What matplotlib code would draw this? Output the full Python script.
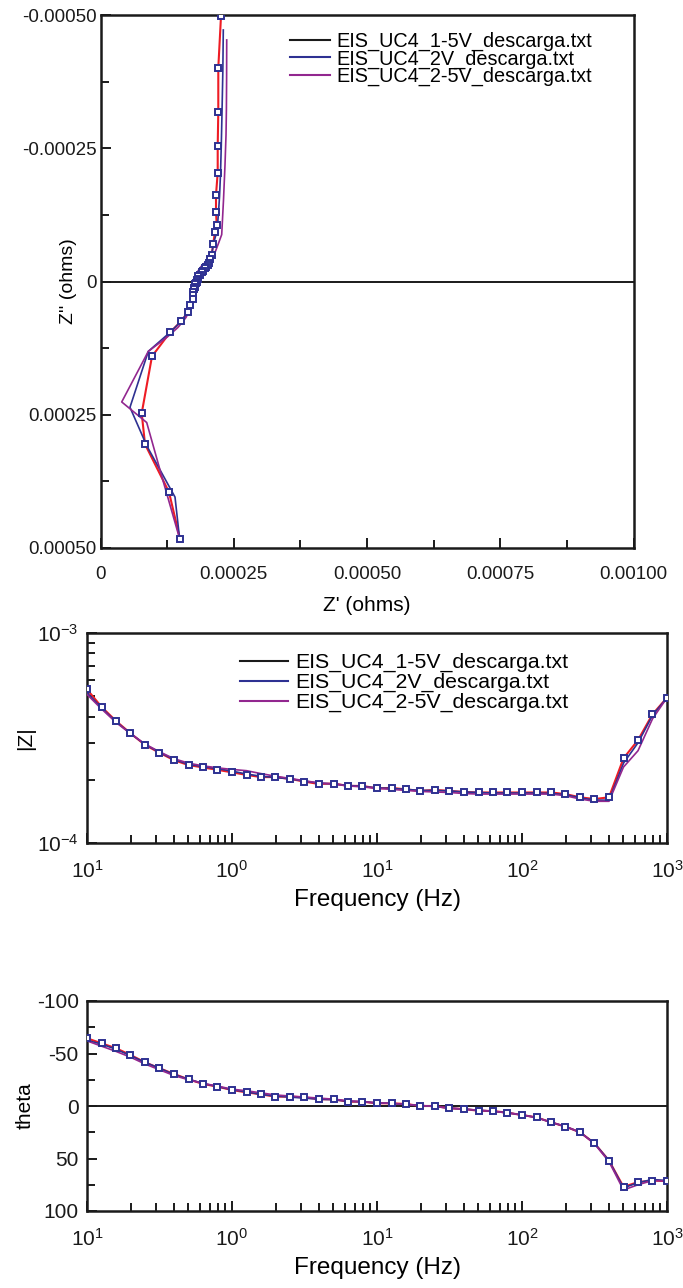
import matplotlib
matplotlib.use('Agg')
import matplotlib.pyplot as plt
from matplotlib.lines import Line2D
from matplotlib.ticker import FixedLocator, FixedFormatter, NullFormatter

plt.rcParams['font.family'] = ['Liberation Sans', 'DejaVu Sans']
plt.rcParams['mathtext.fontset'] = 'custom'
plt.rcParams['mathtext.rm'] = 'Liberation Sans'
plt.rcParams['mathtext.it'] = 'Liberation Sans'
plt.rcParams['mathtext.default'] = 'regular'

# ---------------- data ----------------
series_names = ['EIS_UC4_1-5V_descarga.txt', 'EIS_UC4_2V_descarga.txt', 'EIS_UC4_2-5V_descarga.txt']

freq_hz = [0.1, 0.1259, 0.1585, 0.1995, 0.2512, 0.3162, 0.3981, 0.5012, 0.631, 0.7943,
           1.0, 1.259, 1.585, 1.995, 2.512, 3.162, 3.981, 5.012, 6.31, 7.943,
           10.0, 12.59, 15.85, 19.95, 25.12, 31.62, 39.81, 50.12, 63.1, 79.43,
           100.0, 125.9, 158.5, 199.5, 251.2, 316.2, 398.1, 501.2, 631.0, 794.3,
           1000.0]

# Nyquist, series 1-5V (red line with square markers)
zre_15 = [2.261e-4, 2.210e-4, 2.210e-4, 2.199e-4, 2.199e-4, 2.167e-4, 2.167e-4, 2.180e-4, 2.148e-4, 2.116e-4,
          2.086e-4, 2.054e-4, 2.041e-4, 2.017e-4, 1.979e-4, 1.961e-4, 1.923e-4, 1.899e-4, 1.867e-4, 1.835e-4,
          1.820e-4, 1.811e-4, 1.805e-4, 1.792e-4, 1.782e-4, 1.773e-4, 1.764e-4, 1.754e-4, 1.745e-4, 1.735e-4,
          1.730e-4, 1.730e-4, 1.679e-4, 1.636e-4, 1.510e-4, 1.304e-4, 0.966e-4, 0.773e-4, 0.835e-4, 1.285e-4,
          1.492e-4]
zim_15 = [-4.981e-4, -4.007e-4, -3.184e-4, -2.547e-4, -2.041e-4, -1.629e-4, -1.311e-4, -1.067e-4, -0.936e-4, -0.712e-4,
          -0.506e-4, -0.431e-4, -0.356e-4, -0.318e-4, -0.281e-4, -0.262e-4, -0.206e-4, -0.169e-4, -0.131e-4, -0.094e-4,
          -0.056e-4, -0.037e-4, 0.0, 0.019e-4, 0.056e-4, 0.094e-4, 0.112e-4, 0.131e-4, 0.150e-4, 0.206e-4,
          0.262e-4, 0.337e-4, 0.449e-4, 0.581e-4, 0.749e-4, 0.955e-4, 1.404e-4, 2.472e-4, 3.052e-4, 3.951e-4,
          4.831e-4]

# Nyquist, series 2V (blue)
zre_2 = [2.304e-4, 2.295e-4, 2.280e-4, 2.266e-4, 2.251e-4, 2.233e-4, 2.214e-4, 2.195e-4, 2.167e-4, 2.120e-4,
         2.086e-4, 2.054e-4, 2.041e-4, 2.017e-4, 1.979e-4, 1.961e-4, 1.923e-4, 1.899e-4, 1.867e-4, 1.835e-4,
         1.820e-4, 1.811e-4, 1.805e-4, 1.792e-4, 1.782e-4, 1.773e-4, 1.764e-4, 1.754e-4, 1.745e-4, 1.735e-4,
         1.730e-4, 1.725e-4, 1.679e-4, 1.636e-4, 1.510e-4, 1.304e-4, 0.897e-4, 0.553e-4, 0.872e-4, 1.398e-4,
         1.478e-4]
zim_2 = [-4.719e-4, -3.933e-4, -3.184e-4, -2.547e-4, -2.004e-4, -1.592e-4, -1.292e-4, -1.049e-4, -0.880e-4, -0.712e-4,
         -0.506e-4, -0.431e-4, -0.356e-4, -0.318e-4, -0.281e-4, -0.262e-4, -0.206e-4, -0.169e-4, -0.131e-4, -0.094e-4,
         -0.056e-4, -0.037e-4, 0.0, 0.019e-4, 0.056e-4, 0.094e-4, 0.112e-4, 0.131e-4, 0.150e-4, 0.206e-4,
         0.262e-4, 0.337e-4, 0.449e-4, 0.581e-4, 0.749e-4, 0.955e-4, 1.311e-4, 2.360e-4, 3.090e-4, 4.045e-4,
         4.770e-4]

# Nyquist, series 2-5V (purple)
zre_25 = [2.368e-4, 2.366e-4, 2.362e-4, 2.355e-4, 2.336e-4, 2.308e-4, 2.274e-4, 2.205e-4, 2.148e-4, 2.054e-4,
          1.961e-4, 1.886e-4, 1.848e-4, 1.811e-4, 1.792e-4, 1.773e-4, 1.754e-4, 1.745e-4, 1.735e-4, 1.726e-4,
          1.717e-4, 1.717e-4, 1.707e-4, 1.698e-4, 1.698e-4, 1.689e-4, 1.679e-4, 1.679e-4, 1.670e-4, 1.660e-4,
          1.651e-4, 1.642e-4, 1.604e-4, 1.548e-4, 1.454e-4, 1.266e-4, 0.897e-4, 0.398e-4, 0.867e-4, 1.154e-4,
          1.460e-4]
zim_25 = [-4.532e-4, -3.820e-4, -3.221e-4, -2.753e-4, -2.191e-4, -1.536e-4, -0.880e-4, -0.693e-4, -0.543e-4, -0.431e-4,
          -0.356e-4, -0.281e-4, -0.225e-4, -0.169e-4, -0.112e-4, -0.056e-4, 0.0, 0.037e-4, 0.075e-4, 0.112e-4,
          0.150e-4, 0.187e-4, 0.225e-4, 0.262e-4, 0.300e-4, 0.337e-4, 0.375e-4, 0.412e-4, 0.449e-4, 0.487e-4,
          0.543e-4, 0.599e-4, 0.674e-4, 0.749e-4, 0.861e-4, 1.030e-4, 1.311e-4, 2.260e-4, 2.646e-4, 3.670e-4,
          4.738e-4]

# |Z| (ohms)
zmod_15 = [5.39e-4, 4.45e-4, 3.81e-4, 3.33e-4, 2.93e-4, 2.69e-4, 2.48e-4, 2.35e-4, 2.29e-4, 2.23e-4,
           2.17e-4, 2.11e-4, 2.06e-4, 2.06e-4, 2.02e-4, 1.96e-4, 1.91e-4, 1.92e-4, 1.87e-4, 1.87e-4,
           1.82e-4, 1.83e-4, 1.80e-4, 1.77e-4, 1.79e-4, 1.77e-4, 1.75e-4, 1.74e-4, 1.74e-4, 1.74e-4,
           1.74e-4, 1.74e-4, 1.74e-4, 1.71e-4, 1.65e-4, 1.62e-4, 1.65e-4, 2.53e-4, 3.09e-4, 4.10e-4,
           4.92e-4]
zmod_2 = [5.20e-4, 4.40e-4, 3.78e-4, 3.32e-4, 2.95e-4, 2.70e-4, 2.50e-4, 2.37e-4, 2.31e-4, 2.26e-4,
          2.20e-4, 2.13e-4, 2.08e-4, 2.05e-4, 2.02e-4, 1.97e-4, 1.93e-4, 1.91e-4, 1.88e-4, 1.86e-4,
          1.83e-4, 1.82e-4, 1.80e-4, 1.78e-4, 1.78e-4, 1.77e-4, 1.75e-4, 1.74e-4, 1.73e-4, 1.73e-4,
          1.73e-4, 1.73e-4, 1.72e-4, 1.70e-4, 1.64e-4, 1.60e-4, 1.60e-4, 2.40e-4, 3.00e-4, 4.05e-4,
          4.92e-4]
zmod_25 = [5.10e-4, 4.35e-4, 3.75e-4, 3.32e-4, 2.96e-4, 2.72e-4, 2.52e-4, 2.40e-4, 2.33e-4, 2.28e-4,
           2.24e-4, 2.21e-4, 2.14e-4, 2.08e-4, 2.03e-4, 1.98e-4, 1.93e-4, 1.91e-4, 1.87e-4, 1.85e-4,
           1.82e-4, 1.80e-4, 1.78e-4, 1.76e-4, 1.75e-4, 1.74e-4, 1.72e-4, 1.71e-4, 1.71e-4, 1.71e-4,
           1.71e-4, 1.71e-4, 1.71e-4, 1.68e-4, 1.62e-4, 1.58e-4, 1.58e-4, 2.30e-4, 2.75e-4, 3.90e-4,
           4.92e-4]

# theta (deg)
theta_15 = [-64.5, -59.7, -55.0, -48.6, -41.6, -35.9, -30.5, -25.4, -21.0, -18.4,
            -15.2, -13.0, -11.1, -8.9, -8.9, -8.3, -6.4, -6.4, -4.1, -4.1,
            -2.6, -2.6, -1.9, 0.0, 0.0, 2.2, 2.9, 4.5, 4.8, 6.4,
            8.6, 10.8, 15.5, 19.7, 25.0, 35.5, 52.0, 77.0, 72.5, 71.0,
            71.5]
theta_2 = [-62.5, -59.0, -54.0, -48.0, -41.5, -36.0, -30.0, -25.5, -21.5, -18.5,
           -15.5, -13.5, -11.0, -9.5, -8.5, -7.5, -6.5, -6.0, -4.5, -4.0,
           -3.0, -2.5, -1.5, -0.5, 0.5, 2.0, 3.0, 4.0, 5.0, 6.5,
           8.5, 11.0, 15.5, 19.5, 25.0, 35.5, 52.0, 78.0, 73.0, 70.0,
           71.0]
theta_25 = [-62.0, -57.0, -52.0, -46.5, -40.0, -34.5, -29.0, -25.0, -21.5, -19.0,
            -16.0, -14.5, -12.5, -10.5, -9.5, -8.5, -7.5, -6.5, -5.0, -4.0,
            -3.0, -2.5, -1.5, -0.5, 0.5, 2.0, 3.0, 4.0, 5.0, 6.5,
            8.5, 11.0, 15.5, 19.5, 25.0, 36.0, 53.0, 80.0, 75.0, 71.0,
            71.5]

nyq_xticks = [0, 0.00025, 0.0005, 0.00075, 0.001]
nyq_xticklabels = ['0', '0.00025', '0.00050', '0.00075', '0.00100']
nyq_yticks = [-0.0005, -0.00025, 0, 0.00025, 0.0005]
nyq_yticklabels = ['-0.00050', '-0.00025', '0', '0.00025', '0.00050']
freq_ticks = [0.1, 1, 10, 100, 1000]
freq_ticklabels = ['10$^{1}$', '10$^{0}$', '10$^{1}$', '10$^{2}$', '10$^{3}$']
zmod_ticks = [1e-4, 1e-3]
zmod_ticklabels = ['10$^{-4}$', '10$^{-3}$']
theta_ticks = [-100, -50, 0, 50, 100]
theta_ticklabels = ['-100', '-50', '0', '50', '100']

# ---------------- style ----------------
RED = '#ee1c24'
BLUE = '#2e3192'
PURPLE = '#92278f'
INK = '#1a1a1a'

fig = plt.figure(figsize=(6.83, 12.88), dpi=100)
W, H = 683.0, 1288.0


def add_axes(x0, x1, y0, y1):
    return fig.add_axes([x0 / W, 1 - y1 / H, (x1 - x0) / W, (y1 - y0) / H])


def style(ax, tick_fs):
    for s in ax.spines.values():
        s.set_linewidth(1.8)
        s.set_color(INK)
    ax.tick_params(which='major', direction='in', length=7, width=1.4,
                   labelsize=tick_fs, top=False, right=False, colors=INK)
    ax.tick_params(which='minor', direction='in', length=5.5, width=1.4,
                   top=False, right=False, colors=INK)


def draw(ax, x15, y15, x2, y2, x25, y25):
    ax.plot(x15, y15, color=RED, lw=1.5, zorder=3)
    ax.plot(x2, y2, color=BLUE, lw=1.2, zorder=4)
    ax.plot(x25, y25, color=PURPLE, lw=1.2, zorder=5)
    ax.plot(x15, y15, linestyle='none', marker='s', markersize=4.3, mfc='white',
            mec=BLUE, mew=1.4, zorder=6)


handles = [Line2D([], [], color=INK, lw=1.5),
           Line2D([], [], color=BLUE, lw=1.5),
           Line2D([], [], color=PURPLE, lw=1.5)]

# ---- Nyquist ----
ax1 = add_axes(100.5, 633.5, 15, 548)
style(ax1, 13.5)
ax1.axhline(0, color=INK, lw=1.4, zorder=2)
draw(ax1, zre_15, zim_15, zre_2, zim_2, zre_25, zim_25)
ax1.set_xlim(0, 0.001)
ax1.set_ylim(0.0005, -0.0005)
ax1.xaxis.set_major_locator(FixedLocator(nyq_xticks))
ax1.xaxis.set_major_formatter(FixedFormatter(nyq_xticklabels))
ax1.xaxis.set_minor_locator(FixedLocator([0.000125, 0.000375, 0.000625, 0.000875]))
ax1.yaxis.set_major_locator(FixedLocator(nyq_yticks))
ax1.yaxis.set_major_formatter(FixedFormatter(nyq_yticklabels))
ax1.yaxis.set_minor_locator(FixedLocator([-0.000375, -0.000125, 0.000125, 0.000375]))
ax1.tick_params(axis='x', which='major', pad=13)
ax1.tick_params(axis='y', which='major', pad=3)
ax1.set_xlabel("Z' (ohms)", fontsize=15)
ax1.xaxis.set_label_coords(0.5, -0.09)
ax1.set_ylabel("Z'' (ohms)", fontsize=14)
ax1.yaxis.set_label_coords(-0.045, 0.5)
ax1.legend(handles, series_names, loc='upper left', bbox_to_anchor=(0.3555, 0.968),
           frameon=False, fontsize=14.3, handlelength=2.0, handletextpad=0.35,
           labelspacing=-0.1, borderpad=0, borderaxespad=0)

# ---- |Z| ----
ax2 = add_axes(87, 667, 633, 843)
style(ax2, 15)
draw(ax2, freq_hz, zmod_15, freq_hz, zmod_2, freq_hz, zmod_25)
ax2.set_xscale('log')
ax2.set_yscale('log')
ax2.set_xlim(0.1, 1000)
ax2.set_ylim(1e-4, 1e-3)
ax2.xaxis.set_major_locator(FixedLocator(freq_ticks))
ax2.xaxis.set_major_formatter(FixedFormatter(freq_ticklabels))
ax2.xaxis.set_minor_locator(FixedLocator([m * d for d in [0.1, 1, 10, 100] for m in range(2, 10)]))
ax2.xaxis.set_minor_formatter(NullFormatter())
ax2.yaxis.set_major_locator(FixedLocator(zmod_ticks))
ax2.yaxis.set_major_formatter(FixedFormatter(zmod_ticklabels))
ax2.yaxis.set_minor_locator(FixedLocator([m * 1e-4 for m in range(2, 10)]))
ax2.yaxis.set_minor_formatter(NullFormatter())
ax2.tick_params(axis='x', which='major', pad=12)
ax2.tick_params(axis='y', which='major', pad=6)
ax2.set_xlabel('Frequency (Hz)', fontsize=17.5)
ax2.xaxis.set_label_coords(0.5, -0.22)
ax2.set_ylabel('|Z|', fontsize=15)
ax2.yaxis.set_label_coords(-0.09, 0.5)
ax2.legend(handles, series_names, loc='upper left', bbox_to_anchor=(0.2638, 0.905),
           frameon=False, fontsize=15.3, handlelength=2.26, handletextpad=0.33,
           labelspacing=0.04, borderpad=0, borderaxespad=0)

# ---- theta ----
ax3 = add_axes(87, 667, 1001, 1211)
style(ax3, 15)
ax3.axhline(0, color=INK, lw=1.4, zorder=2)
draw(ax3, freq_hz, theta_15, freq_hz, theta_2, freq_hz, theta_25)
ax3.set_xscale('log')
ax3.set_xlim(0.1, 1000)
ax3.set_ylim(100, -100)
ax3.xaxis.set_major_locator(FixedLocator(freq_ticks))
ax3.xaxis.set_major_formatter(FixedFormatter(freq_ticklabels))
ax3.xaxis.set_minor_locator(FixedLocator([m * d for d in [0.1, 1, 10, 100] for m in range(2, 10)]))
ax3.xaxis.set_minor_formatter(NullFormatter())
ax3.yaxis.set_major_locator(FixedLocator(theta_ticks))
ax3.yaxis.set_major_formatter(FixedFormatter(theta_ticklabels))
ax3.yaxis.set_minor_locator(FixedLocator([-75, -25, 25, 75]))
ax3.tick_params(axis='x', which='major', pad=12)
ax3.tick_params(axis='y', which='major', pad=6)
ax3.set_xlabel('Frequency (Hz)', fontsize=17.5)
ax3.xaxis.set_label_coords(0.5, -0.22)
ax3.set_ylabel('theta', fontsize=15)
ax3.yaxis.set_label_coords(-0.09, 0.5)

fig.savefig('out.png', dpi=100)
